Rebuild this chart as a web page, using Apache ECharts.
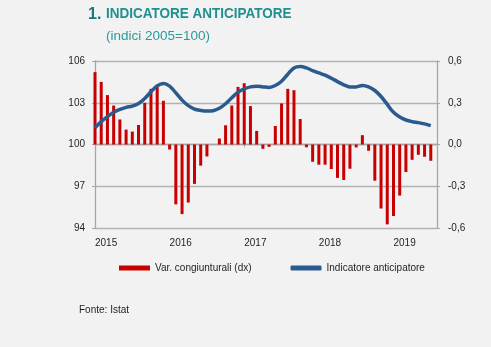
<!DOCTYPE html>
<html><head><meta charset="utf-8">
<script src="https://cdn.jsdelivr.net/npm/echarts@6/dist/echarts.min.js"></script>
<style>html,body{margin:0;padding:0;background:#f2f2f2;}#c{width:491px;height:347px;}</style>
</head><body><div id="c"></div>
<script>
var startYear = 2015;
var yearLabels = ['2015','2016','2017','2018','2019'];
var leftTicks = [94, 97, 100, 103, 106];
var rightTicks = [-0.6, -0.3, 0, 0.3, 0.6];
// monthly Jan 2015 .. Jul 2019
var varCong = [
  0.52, 0.45, 0.355, 0.28, 0.18, 0.107, 0.093, 0.14, 0.30, 0.40, 0.43, 0.314,
  -0.036, -0.43, -0.50, -0.417, -0.283, -0.152, -0.086, 0.0, 0.043, 0.138, 0.28, 0.414,
  0.44, 0.276, 0.098, -0.031, -0.017, 0.133, 0.295, 0.40, 0.39, 0.183, -0.02, -0.124,
  -0.145, -0.145, -0.176, -0.24, -0.255, -0.174, -0.021, 0.067, -0.045, -0.26, -0.46, -0.574,
  -0.514, -0.367, -0.198, -0.11, -0.074, -0.088, -0.117
];
var indicatore = [
  101.21, 101.64, 102.0, 102.31, 102.52, 102.67, 102.76, 102.95, 103.31, 103.79, 104.21, 104.38,
  104.19, 103.71, 103.19, 102.79, 102.55, 102.45, 102.40, 102.43, 102.6, 102.93, 103.36, 103.76,
  104.0, 104.14, 104.19, 104.14, 104.10, 104.24, 104.55, 105.05, 105.5, 105.6, 105.5, 105.31,
  105.14, 104.98, 104.76, 104.52, 104.29, 104.14, 104.14, 104.24, 104.14, 103.88, 103.45, 102.88,
  102.31, 101.98, 101.76, 101.64, 101.57, 101.48, 101.36
];
var barName = 'Var. congiunturali (dx)';
var lineName = 'Indicatore anticipatore';

var FONT = '"Liberation Sans", Arial, sans-serif';
var barData = varCong.map(function(v,i){return [i, v];});
var lineData = indicatore.map(function(v,i){return [i, v];});
var yearTicks = yearLabels.map(function(y,i){return i*12;});
var axisCol = '#a6a6a6';
var txtCol = '#1f1f1f';

var chart = echarts.init(document.getElementById('c'), null, {renderer:'canvas'});
chart.setOption({
  backgroundColor: '#f2f2f2',
  animation: false,
  textStyle: {fontFamily: FONT},
  grid: {left: 95, right: 54, top: 61, bottom: 119, containLabel: false},
  graphic: [
    {type:'text', x: 88, y: 14.5, scaleX: 0.95, style:{text:'1.', font:'bold 17px ' + FONT, fill:'#17797a', verticalAlign:'middle', align:'left'}},
    {type:'text', x: 106, y: 14, scaleX: 0.9, style:{text:'INDICATORE ANTICIPATORE', font:'bold 15px ' + FONT, fill:'#1e9090', verticalAlign:'middle', align:'left'}},
    {type:'text', x: 106, y: 36, style:{text:'(indici 2005=100)', font:'13.5px ' + FONT, fill:'#2a9a9a', verticalAlign:'middle', align:'left'}},
    {type:'text', x: 79, y: 310, style:{text:'Fonte: Istat', font:'10px ' + FONT, fill:txtCol, verticalAlign:'middle', align:'left'}}
  ],
  legend: {
    left: 114, top: 258, itemWidth: 31, itemHeight: 5, itemGap: 39,
    textStyle: {fontFamily: FONT, fontSize: 10, color: txtCol},
    data: [{name: barName, icon: 'rect'}, {name: lineName, icon: 'roundRect'}]
  },
  xAxis: {
    type: 'value', min: 0, max: 55, interval: 12,
    axisLine: {show: true, lineStyle: {color: axisCol, width: 1.3}},
    axisTick: {show: true, length: 3, customValues: yearTicks, lineStyle:{color: axisCol}},
    splitLine: {show: false},
    axisLabel: {customValues: yearTicks, color: txtCol, fontSize: 10, fontFamily: FONT, align: 'left', margin: 10,
      formatter: function(v){ return String(startYear + Math.round(v/12)); }}
  },
  yAxis: [
    {type: 'value', min: 94, max: 106, interval: 3, position: 'left',
     axisLine: {show: true, lineStyle: {color: axisCol, width: 1.3}},
     axisTick: {show: true, length: 3, lineStyle:{color: axisCol}},
     splitLine: {show: true, lineStyle: {color: '#b3b3b3', width: 1.3}},
     axisLabel: {color: txtCol, fontSize: 10, fontFamily: FONT, margin: 10}},
    {type: 'value', min: -0.6, max: 0.6, interval: 0.3, position: 'right',
     axisLine: {show: true, lineStyle: {color: axisCol, width: 1.3}},
     axisTick: {show: true, length: 3, lineStyle:{color: axisCol}},
     splitLine: {show: false},
     axisLabel: {color: txtCol, fontSize: 10, fontFamily: FONT, margin: 11,
       formatter: function(v){ return v.toFixed(1).replace('.', ','); }}}
  ],
  series: [
    {name: barName, type: 'bar', yAxisIndex: 1, data: barData, barWidth: 3, clip: false,
     itemStyle: {color: '#c80000'}},
    {name: lineName, type: 'line', yAxisIndex: 0, data: lineData, smooth: 0.35, showSymbol: false,
     lineStyle: {color: '#2b5a8e', width: 3.5}, itemStyle: {color: '#2b5a8e'}, z: 3}
  ]
});
</script></body></html>
